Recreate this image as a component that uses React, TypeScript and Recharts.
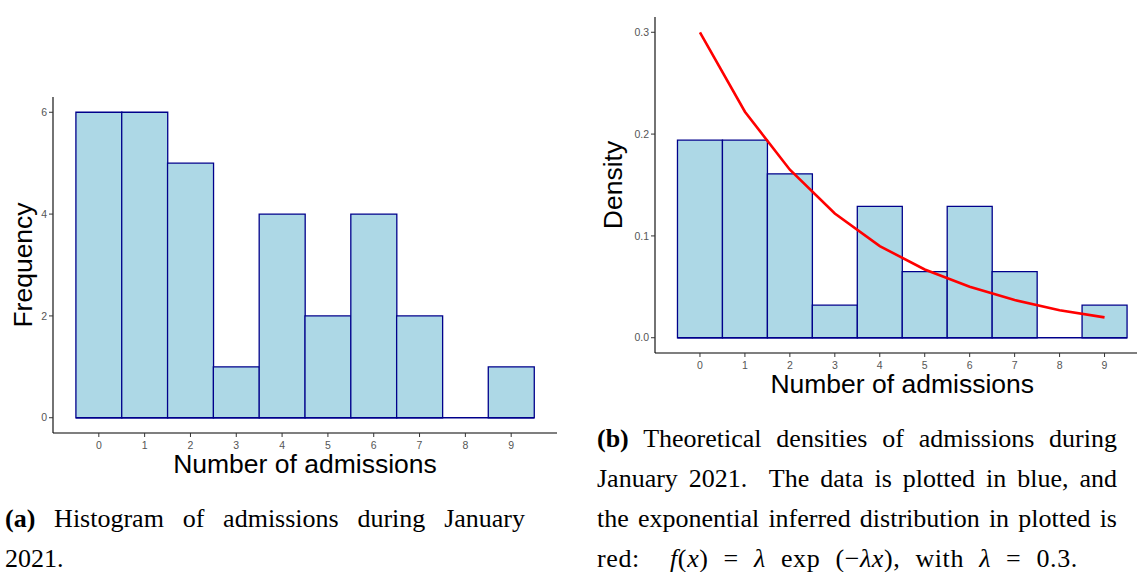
import React from 'react';
import { ComposedChart, Bar, Line, XAxis, YAxis, Label, ReferenceLine } from 'recharts';

const admissions = [0, 1, 2, 3, 4, 5, 6, 7, 8, 9];
const frequency = [6, 6, 5, 1, 4, 2, 4, 2, 0, 1];
const density = [0.194, 0.194, 0.161, 0.032, 0.129, 0.065, 0.129, 0.065, 0, 0.032];
const expFit = [0.3, 0.222, 0.165, 0.122, 0.09, 0.067, 0.05, 0.037, 0.027, 0.02];
const freqTicks = [0, 2, 4, 6];
const densTicks = [0, 0.1, 0.2, 0.3];

const leftData = admissions.map((x, i) => ({ x, count: frequency[i] }));
const rightData = admissions.map((x, i) => ({ x, dens: density[i], fit: expFit[i] }));

const FILL = '#ADD8E6';
const EDGE = '#00008B';
const SANS = '"Liberation Sans", Arial, sans-serif';
const SERIF = '"Liberation Serif", "Times New Roman", serif';

const tickStyle = { fill: '#555555', fontSize: 10.5, fontFamily: SANS };
const tickLine = { stroke: '#333333', strokeWidth: 1 };
const axisLine = { stroke: '#000000', strokeWidth: 1.1 };

const xTitle = (props: any) => {
  const vb = props.viewBox;
  return (
    <text x={vb.x + vb.width / 2} y={vb.y + 40} textAnchor="middle" fontFamily={SANS} fontSize={26.5} fill="#000">
      Number of admissions
    </text>
  );
};

const yTitle = (text: string, bx: number) => (props: any) => {
  const vb = props.viewBox;
  const cx = vb.x + bx;
  const cy = vb.y + vb.height / 2;
  return (
    <text x={cx} y={cy} transform={`rotate(-90 ${cx} ${cy})`} textAnchor="middle" fontFamily={SANS} fontSize={26.5} fill="#000">
      {text}
    </text>
  );
};

const capStyle: React.CSSProperties = {
  position: 'absolute',
  width: 520,
  fontFamily: SERIF,
  fontSize: 26,
  lineHeight: '40px',
  color: '#000',
};
const just: React.CSSProperties = { textAlign: 'justify', textAlignLast: 'justify' };
const m: React.CSSProperties = { fontStyle: 'italic' };

export default function App() {
  return (
    <div style={{ position: 'absolute', left: 0, top: 0, width: 1137, height: 572, overflow: 'hidden', background: '#fff' }}>
      <div style={{ position: 'absolute', left: 0, top: 0 }}>
        <ComposedChart width={570} height={500} data={leftData} margin={{ top: 97, right: 13, left: 0, bottom: 17 }} barCategoryGap={0} barGap={0}>
          <XAxis type="number" dataKey="x" domain={[-1, 10]} ticks={admissions} allowDataOverflow height={50}
            tick={tickStyle} tickLine={tickLine} axisLine={axisLine} tickSize={4} tickMargin={5} interval={0}>
            <Label content={xTitle} />
          </XAxis>
          <YAxis type="number" domain={[-0.3, 6.3]} ticks={freqTicks} allowDataOverflow width={53}
            tick={tickStyle} tickLine={tickLine} axisLine={axisLine} tickSize={4} tickMargin={2} interval={0}>
            <Label content={yTitle('Frequency', 32)} />
          </YAxis>
          <ReferenceLine segment={[{ x: -0.5, y: 0 }, { x: 9.5, y: 0 }]} stroke={EDGE} strokeWidth={1.3} />
          <Bar dataKey="count" fill={FILL} stroke={EDGE} strokeWidth={1.3} isAnimationActive={false} />
        </ComposedChart>
      </div>

      <div style={{ position: 'absolute', left: 570, top: 0 }}>
        <ComposedChart width={600} height={400} data={rightData} margin={{ top: 17, right: 20.5, left: 0, bottom: 2 }} barCategoryGap={0} barGap={0}>
          <XAxis type="number" dataKey="x" domain={[-1, 10]} ticks={admissions} allowDataOverflow height={45}
            tick={tickStyle} tickLine={tickLine} axisLine={axisLine} tickSize={4} tickMargin={5} interval={0}>
            <Label content={xTitle} />
          </XAxis>
          <YAxis type="number" domain={[-0.015, 0.315]} ticks={densTicks} allowDataOverflow width={85}
            tickFormatter={(v: number) => v.toFixed(1)}
            tick={tickStyle} tickLine={tickLine} axisLine={axisLine} tickSize={4} tickMargin={2} interval={0}>
            <Label content={yTitle('Density', 52)} />
          </YAxis>
          <ReferenceLine segment={[{ x: -0.5, y: 0 }, { x: 9.5, y: 0 }]} stroke={EDGE} strokeWidth={1.3} />
          <Bar dataKey="dens" fill={FILL} stroke={EDGE} strokeWidth={1.3} isAnimationActive={false} />
          <Line dataKey="fit" type="linear" stroke="#FF0000" strokeWidth={2.6} dot={false} isAnimationActive={false} />
        </ComposedChart>
      </div>

      <div style={{ ...capStyle, left: 5, top: 499 }}>
        <div style={just}><b>(a)</b> Histogram of admissions during January</div>
        <div>2021.</div>
      </div>

      <div style={{ ...capStyle, left: 597, top: 419 }}>
        <div style={just}><b>(b)</b> Theoretical densities of admissions during</div>
        <div style={just}>January 2021.&nbsp; The data is plotted in blue, and</div>
        <div style={just}>the exponential inferred distribution in plotted is</div>
        <div style={{ wordSpacing: 8, letterSpacing: 0.6, whiteSpace: 'nowrap' }}>
          red:&nbsp; <span style={m}>f</span>(<span style={m}>x</span>) = <span style={m}>λ</span> exp (−<span style={m}>λx</span>), with <span style={m}>λ</span> = 0.3.
        </div>
      </div>
    </div>
  );
}
